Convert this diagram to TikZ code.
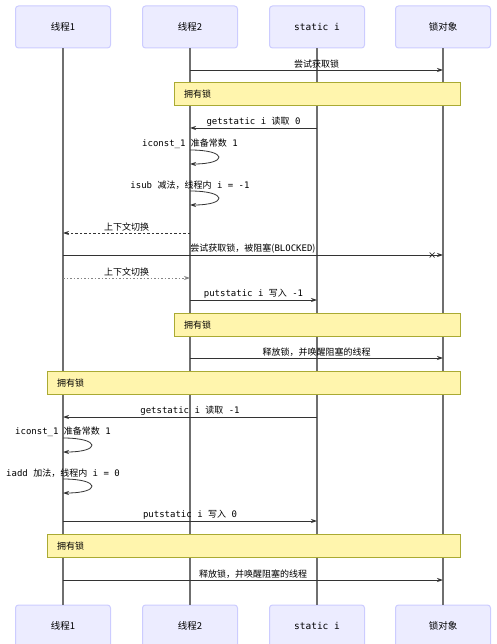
\documentclass[tikz,border=0pt]{standalone}
\usepackage{fontspec}
\setmainfont{Noto Sans CJK SC}
\setmonofont{DejaVu Sans Mono}
\usepackage{tikz}
\usetikzlibrary{arrows.meta,calc,positioning}

\definecolor{actorfill}{HTML}{ECECFF}
\definecolor{actorline}{HTML}{CCCCFF}
\definecolor{notefill}{HTML}{FFF5AD}
\definecolor{noteline}{HTML}{AAAA33}
\definecolor{lifegray}{HTML}{6F6F6F}
\definecolor{msggray}{HTML}{333333}

\newcommand{\tc}[1]{\texttt{#1}}

\tikzset{
	actor/.style={draw=actorline, fill=actorfill, line width=1pt, rounded corners=3pt,
		minimum width=95pt, minimum height=42pt, font=\fontsize{9.5}{11}\selectfont},
	life/.style={draw=lifegray, line width=1.7pt},
	msg/.style={draw=msggray, line width=0.8pt, -{Stealth[length=6pt,width=4pt]}},
	ret/.style={msg, dash pattern=on 2.5pt off 2pt},
	msglabel/.style={font=\fontsize{9}{11}\selectfont, inner sep=1.5pt, text=black},
	note/.style={draw=noteline, fill=notefill, line width=1pt, minimum height=23pt,
		inner xsep=10pt, align=left, font=\fontsize{9}{11}\selectfont},
}

\begin{document}
\begin{tikzpicture}[x=1pt, y=-1pt]
	\useasboundingbox (0,0) rectangle (497,644);
	
	% Participants, top and bottom
	\foreach \n/\x/\t in {t1/63/{线程1}, t2/190/{线程2}, si/317/{\tc{static i}}, lk/443/{锁对象}}{
		\node[actor] (\n) at (\x,27) {\t};
		\node[actor] (\n-b) at (\x,626) {\t};
		\draw[life] (\n) -- (\n-b);
	}
	
	% Thread 2 takes the lock
	\draw[msg] (t2 |- 0,70) -- node[above, msglabel] (m1) {尝试获取锁} (lk |- 0,70);
	\node[note, text width=266pt, minimum width=286pt] (n1) at (317,94.5) {拥有锁};
	\draw[msg] (si |- 0,128) -- node[above, msglabel] (m2) {\tc{getstatic i }读取\tc{ 0}} (t2 |- 0,128);
	\node[above, msglabel] (m3) at (t2 |- 0,150) {\tc{iconst\_1 }准备常数\tc{ 1}};
	\draw[msg] (t2 |- 0,150) .. controls +(38,0) and +(38,0) .. (t2 |- 0,164);
	\node[above, msglabel] (m4) at (t2 |- 0,191) {\tc{isub }减法，线程内\tc{ i = -1}};
	\draw[msg] (t2 |- 0,191) .. controls +(38,0) and +(38,0) .. (t2 |- 0,205);
	
	% Context switch, thread 1 blocked
	\draw[ret] (t2 |- 0,233) -- node[above, msglabel] (m5) {上下文切换} (t1 |- 0,233);
	\draw[msg] (t1 |- 0,255) -- node[above, msglabel] (m6) {尝试获取锁，被阻塞(\tc{BLOCKED})} (lk |- 0,255);
	\coordinate (x1) at (432,255);
	\draw[msggray, line width=0.7pt] (x1) +(-2.5,-2.5) -- +(2.5,2.5) +(-2.5,2.5) -- +(2.5,-2.5);
	\draw[ret, msggray!60, dash pattern=on 1.5pt off 2pt] (t1 |- 0,278) -- node[above, msglabel] (m7) {上下文切换} (t2 |- 0,278);
	\draw[msg] (t2 |- 0,300) -- node[above, msglabel] (m8) {\tc{putstatic i }写入\tc{ -1}} (si |- 0,300);
	\node[note, text width=266pt, minimum width=286pt] (n2) at (317,325) {拥有锁};
	\draw[msg] (t2 |- 0,358) -- node[above, msglabel] (m9) {释放锁，并唤醒阻塞的线程} (lk |- 0,358);
	
	% Thread 1 takes the lock
	\node[note, text width=393pt, minimum width=413pt] (n3) at (253.5,383) {拥有锁};
	\draw[msg] (si |- 0,417) -- node[above, msglabel] (m10) {\tc{getstatic i }读取\tc{ -1}} (t1 |- 0,417);
	\node[above, msglabel] (m11) at (t1 |- 0,438) {\tc{iconst\_1 }准备常数\tc{ 1}};
	\draw[msg] (t1 |- 0,438) .. controls +(38,0) and +(38,0) .. (t1 |- 0,452);
	\node[above, msglabel] (m12) at (t1 |- 0,479) {\tc{iadd }加法，线程内\tc{ i = 0}};
	\draw[msg] (t1 |- 0,479) .. controls +(38,0) and +(38,0) .. (t1 |- 0,493);
	\draw[msg] (t1 |- 0,521) -- node[above, msglabel] (m13) {\tc{putstatic i }写入\tc{ 0}} (si |- 0,521);
	\node[note, text width=393pt, minimum width=413pt] (n4) at (253.5,546) {拥有锁};
	\draw[msg] (t1 |- 0,580) -- node[above, msglabel] (m14) {释放锁，并唤醒阻塞的线程} (lk |- 0,580);
	
\end{tikzpicture}
\end{document}
